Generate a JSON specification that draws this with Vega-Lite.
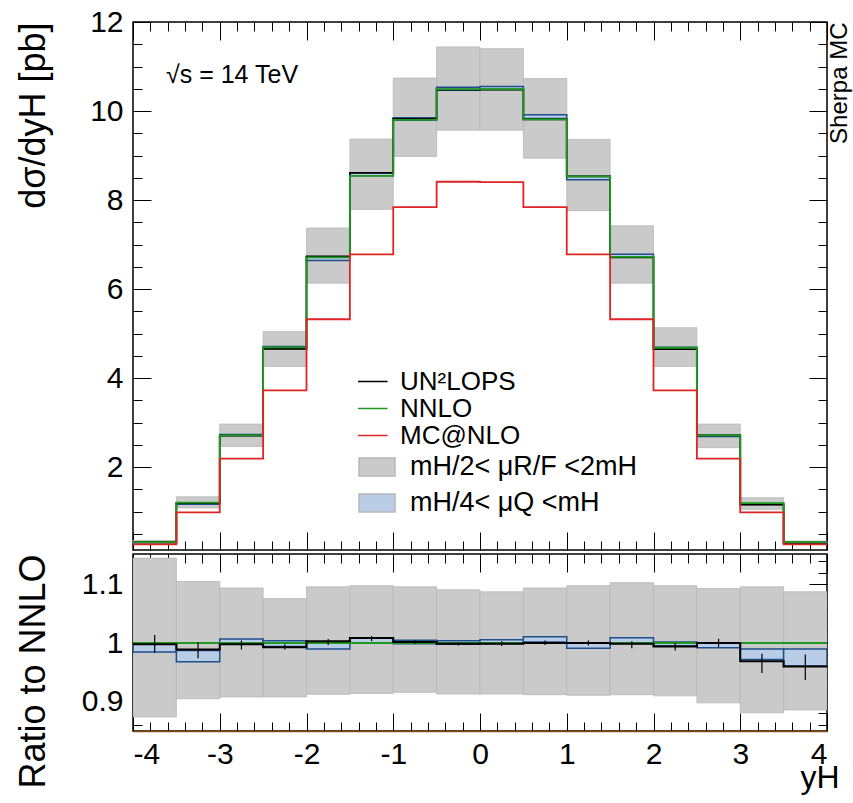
{
  "$schema": "https://vega.github.io/schema/vega-lite/v6.json",
  "padding": {"left": 14, "top": 6, "right": 3, "bottom": 1},
  "spacing": 0,
  "datasets": {
    "bins": [
      {"lo": -4, "hi": -3.5, "c": -3.75, "nnlo": 0.31, "un": 0.309, "mc": 0.26, "s_lo": 0.272, "s_hi": 0.352, "q_lo": 0.305, "q_hi": 0.309, "r_un": 0.998, "rs_lo": 0.874, "rs_hi": 1.145, "rq_lo": 0.985, "rq_hi": 0.998, "re_lo": 0.9835, "re_hi": 1.0136},
      {"lo": -3.5, "hi": -3, "c": -3.25, "nnlo": 1.2, "un": 1.187, "mc": 0.98, "s_lo": 1.08, "s_hi": 1.33, "q_lo": 1.162, "q_hi": 1.185, "r_un": 0.989, "rs_lo": 0.905, "rs_hi": 1.105, "rq_lo": 0.968, "rq_hi": 0.9875, "re_lo": 0.974, "re_hi": 1.002},
      {"lo": -3, "hi": -2.5, "c": -2.75, "nnlo": 2.71, "un": 2.705, "mc": 2.19, "s_lo": 2.46, "s_hi": 2.965, "q_lo": 2.707, "q_hi": 2.729, "r_un": 0.998, "rs_lo": 0.908, "rs_hi": 1.094, "rq_lo": 0.999, "rq_hi": 1.007, "re_lo": 0.989, "re_hi": 1.0045},
      {"lo": -2.5, "hi": -2, "c": -2.25, "nnlo": 4.69, "un": 4.657, "mc": 3.72, "s_lo": 4.26, "s_hi": 5.04, "q_lo": 4.662, "q_hi": 4.709, "r_un": 0.993, "rs_lo": 0.908, "rs_hi": 1.076, "rq_lo": 0.994, "rq_hi": 1.004, "re_lo": 0.989, "re_hi": 0.998},
      {"lo": -2, "hi": -1.5, "c": -1.75, "nnlo": 6.71, "un": 6.73, "mc": 5.32, "s_lo": 6.13, "s_hi": 7.37, "q_lo": 6.643, "q_hi": 6.723, "r_un": 1.003, "rs_lo": 0.9125, "rs_hi": 1.096, "rq_lo": 0.99, "rq_hi": 1.002, "re_lo": 0.9966, "re_hi": 1.007},
      {"lo": -1.5, "hi": -1, "c": -1.25, "nnlo": 8.54, "un": 8.61, "mc": 6.78, "s_lo": 7.79, "s_hi": 9.37, "q_lo": 8.545, "q_hi": 8.613, "r_un": 1.0085, "rs_lo": 0.914, "rs_hi": 1.098, "rq_lo": 1.0006, "rq_hi": 1.0085, "re_lo": 1.0034, "re_hi": 1.012},
      {"lo": -1, "hi": -0.5, "c": -0.75, "nnlo": 9.8, "un": 9.82, "mc": 7.84, "s_lo": 8.98, "s_hi": 10.74, "q_lo": 9.79, "q_hi": 9.849, "r_un": 1.002, "rs_lo": 0.916, "rs_hi": 1.096, "rq_lo": 0.999, "rq_hi": 1.005, "re_lo": 0.999, "re_hi": 1.0045},
      {"lo": -0.5, "hi": 0, "c": -0.25, "nnlo": 10.49, "un": 10.48, "mc": 8.41, "s_lo": 9.57, "s_hi": 11.44, "q_lo": 10.469, "q_hi": 10.532, "r_un": 0.999, "rs_lo": 0.913, "rs_hi": 1.091, "rq_lo": 0.998, "rq_hi": 1.004, "re_lo": 0.996, "re_hi": 1.0017},
      {"lo": 0, "hi": 0.5, "c": 0.25, "nnlo": 10.49, "un": 10.48, "mc": 8.4, "s_lo": 9.57, "s_hi": 11.4, "q_lo": 10.484, "q_hi": 10.55, "r_un": 0.999, "rs_lo": 0.913, "rs_hi": 1.0875, "rq_lo": 0.9994, "rq_hi": 1.0057, "re_lo": 0.995, "re_hi": 1.003},
      {"lo": 0.5, "hi": 1, "c": 0.75, "nnlo": 9.81, "un": 9.81, "mc": 7.84, "s_lo": 8.94, "s_hi": 10.73, "q_lo": 9.83, "q_hi": 9.918, "r_un": 1.0, "rs_lo": 0.912, "rs_hi": 1.094, "rq_lo": 1.002, "rq_hi": 1.011, "re_lo": 0.9966, "re_hi": 1.0045},
      {"lo": 1, "hi": 1.5, "c": 1.25, "nnlo": 8.53, "un": 8.53, "mc": 6.78, "s_lo": 7.76, "s_hi": 9.36, "q_lo": 8.453, "q_hi": 8.535, "r_un": 1.0, "rs_lo": 0.911, "rs_hi": 1.098, "rq_lo": 0.991, "rq_hi": 1.0006, "re_lo": 0.996, "re_hi": 1.0045},
      {"lo": 1.5, "hi": 2, "c": 1.75, "nnlo": 6.72, "un": 6.71, "mc": 5.32, "s_lo": 6.13, "s_hi": 7.42, "q_lo": 6.716, "q_hi": 6.78, "r_un": 0.999, "rs_lo": 0.912, "rs_hi": 1.103, "rq_lo": 0.9994, "rq_hi": 1.009, "re_lo": 0.991, "re_hi": 1.003},
      {"lo": 2, "hi": 2.5, "c": 2.25, "nnlo": 4.68, "un": 4.65, "mc": 3.72, "s_lo": 4.26, "s_hi": 5.13, "q_lo": 4.659, "q_hi": 4.689, "r_un": 0.994, "rs_lo": 0.91, "rs_hi": 1.098, "rq_lo": 0.9955, "rq_hi": 1.002, "re_lo": 0.9875, "re_hi": 1.0},
      {"lo": 2.5, "hi": 3, "c": 2.75, "nnlo": 2.71, "un": 2.71, "mc": 2.19, "s_lo": 2.435, "s_hi": 2.965, "q_lo": 2.688, "q_hi": 2.712, "r_un": 1.0, "rs_lo": 0.898, "rs_hi": 1.093, "rq_lo": 0.992, "rq_hi": 1.0006, "re_lo": 0.993, "re_hi": 1.0074},
      {"lo": 3, "hi": 3.5, "c": 3.25, "nnlo": 1.19, "un": 1.153, "mc": 0.98, "s_lo": 1.05, "s_hi": 1.31, "q_lo": 1.157, "q_hi": 1.178, "r_un": 0.969, "rs_lo": 0.881, "rs_hi": 1.096, "rq_lo": 0.972, "rq_hi": 0.99, "re_lo": 0.949, "re_hi": 0.982},
      {"lo": 3.5, "hi": 4, "c": 3.75, "nnlo": 0.31, "un": 0.298, "mc": 0.26, "s_lo": 0.275, "s_hi": 0.337, "q_lo": 0.298, "q_hi": 0.307, "r_un": 0.96, "rs_lo": 0.886, "rs_hi": 1.0875, "rq_lo": 0.961, "rq_hi": 0.99, "re_lo": 0.937, "re_hi": 0.9807}
    ]
  },
  "config": {
    "font": "Liberation Sans",
    "view": {"stroke": "black", "strokeWidth": 1.5},
    "axis": {
      "domain": false, "grid": false, "tickColor": "black", "tickWidth": 1,
      "labelColor": "black", "titleColor": "black", "labelFontSize": 30, "titleFontSize": 36,
      "titleFontWeight": "normal", "labelFont": "Liberation Sans", "titleFont": "Liberation Sans", "format": "~g"
    },
    "legend": {"labelFontSize": 27, "labelFont": "Liberation Sans", "labelColor": "black", "labelLimit": 400, "padding": 0, "offset": 0}
  },
  "vconcat": [
    {
      "width": 694, "height": 528,
      "data": {"name": "bins"},
      "layer": [
        {
          "mark": {"type": "rect", "stroke": "#b8b8b8", "strokeWidth": 0.8},
          "encoding": {
            "x": {"field": "lo", "type": "quantitative", "scale": {"domain": [-4, 4], "nice": false, "zero": false},
              "axis": {"orient": "bottom", "title": null, "values": [-4,-3.8,-3.6,-3.4,-3.2,-3,-2.8,-2.6,-2.4,-2.2,-2,-1.8,-1.6,-1.4,-1.2,-1,-0.8,-0.6,-0.4,-0.2,0,0.2,0.4,0.6,0.8,1,1.2,1.4,1.6,1.8,2,2.2,2.4,2.6,2.8,3,3.2,3.4,3.6,3.8,4], "labels": false,
                "tickSize": {"condition": {"test": "datum.value % 1 === 0", "value": -18}, "value": -9}}},
            "x2": {"field": "hi"},
            "y": {"field": "s_lo", "type": "quantitative", "scale": {"domain": [0.135, 12], "nice": false, "zero": false},
              "axis": {"orient": "left", "title": "dσ/dyH [pb]", "titleAnchor": "end", "titlePadding": 37,
                "values": [0.5,1,1.5,2,2.5,3,3.5,4,4.5,5,5.5,6,6.5,7,7.5,8,8.5,9,9.5,10,10.5,11,11.5,12],
                "labelExpr": "datum.value % 2 === 0 ? datum.label : ''", "labelPadding": 28,
                "tickSize": {"condition": {"test": "datum.value % 2 === 0", "value": -18}, "value": -9}}},
            "y2": {"field": "s_hi"},
            "fill": {"datum": "scale", "scale": {"domain": ["scale", "q"], "range": ["#cacaca", "#b9cde6"]},
              "legend": {"title": null, "orient": "none", "legendX": 225, "legendY": 427, "symbolType": "M-1,-0.5H1V0.5H-1Z", "symbolSize": 1296, "rowPadding": 0, "clipHeight": 36, "labelOffset": 14,
                "labelExpr": "datum.label == 'scale' ? 'mH/2< μR/F <2mH' : 'mH/4< μQ <mH'",
                "symbolOpacity": 1,
                "encode": {"symbols": {"update": {"stroke": {"signal": "datum.value == 'q' ? '#1f4e8c' : '#b0b0b0'"}, "strokeWidth": {"value": 1.5}}}}}}
          }
        },
        {
          "mark": {"type": "rect", "stroke": "#1f4e8c", "strokeWidth": 1.5},
          "encoding": {
            "x": {"field": "lo", "type": "quantitative", "axis": null},
            "x2": {"field": "hi"},
            "y": {"field": "q_lo", "type": "quantitative", "axis": null},
            "y2": {"field": "q_hi"},
            "fill": {"datum": "q"}
          }
        },
        {
          "transform": [
            {"fold": ["un", "nnlo", "mc"], "as": ["series", "val"]},
            {"fold": ["lo", "hi"], "as": ["edge", "x"]}
          ],
          "mark": {"type": "line", "strokeWidth": 1.8},
          "encoding": {
            "x": {"field": "x", "type": "quantitative",
              "axis": {"orient": "top", "title": null, "values": [-4,-3.8,-3.6,-3.4,-3.2,-3,-2.8,-2.6,-2.4,-2.2,-2,-1.8,-1.6,-1.4,-1.2,-1,-0.8,-0.6,-0.4,-0.2,0,0.2,0.4,0.6,0.8,1,1.2,1.4,1.6,1.8,2,2.2,2.4,2.6,2.8,3,3.2,3.4,3.6,3.8,4], "labels": false,
                "tickSize": {"condition": {"test": "datum.value % 1 === 0", "value": -18}, "value": -9}}},
            "y": {"field": "val", "type": "quantitative",
              "axis": {"orient": "right", "title": "Sherpa MC", "titleFontSize": 24, "titleAngle": 270, "titleAnchor": "end", "titlePadding": 24, "labels": false,
                "values": [0.5,1,1.5,2,2.5,3,3.5,4,4.5,5,5.5,6,6.5,7,7.5,8,8.5,9,9.5,10,10.5,11,11.5,12],
                "tickSize": {"condition": {"test": "datum.value % 2 === 0", "value": -18}, "value": -9}}},
            "stroke": {"field": "series", "type": "nominal", "scale": {"domain": ["un", "nnlo", "mc"], "range": ["#000000", "#1f9a1f", "#e02424"]},
              "legend": {"title": null, "orient": "none", "legendX": 225, "legendY": 349, "symbolType": "M-2,0H2", "symbolSize": 275, "symbolStrokeWidth": 1.5, "rowPadding": 0, "clipHeight": 21, "labelOffset": 16, "labelFontSize": 26,
                "labelExpr": "datum.label == 'un' ? 'UN²LOPS' : datum.label == 'nnlo' ? 'NNLO' : 'MC@NLO'"}}
          }
        },
        {
          "data": {"values": [{}]},
          "mark": {"type": "text", "text": "√s = 14 TeV", "align": "left", "baseline": "middle", "fontSize": 25, "fontWeight": "normal", "fill": "black"},
          "encoding": {
            "x": {"datum": -3.62, "type": "quantitative", "axis": null},
            "y": {"datum": 10.82, "type": "quantitative", "axis": null}
          }
        }
      ],
      "resolve": {"axis": {"x": "independent", "y": "independent"}}
    },
    {
      "width": 694, "height": 177,
      "data": {"name": "bins"},
      "layer": [
        {
          "mark": {"type": "rect", "color": "#cacaca", "stroke": "#b8b8b8", "strokeWidth": 0.8, "clip": true},
          "encoding": {
            "x": {"field": "lo", "type": "quantitative", "scale": {"domain": [-4, 4], "nice": false, "zero": false},
              "axis": {"orient": "bottom", "title": "yH", "titleFontSize": 32, "titleAnchor": "end", "titleAlign": "right", "titleX": 706, "titleY": 56, "titleBaseline": "alphabetic", "values": [-4,-3.8,-3.6,-3.4,-3.2,-3,-2.8,-2.6,-2.4,-2.2,-2,-1.8,-1.6,-1.4,-1.2,-1,-0.8,-0.6,-0.4,-0.2,0,0.2,0.4,0.6,0.8,1,1.2,1.4,1.6,1.8,2,2.2,2.4,2.6,2.8,3,3.2,3.4,3.6,3.8,4],
                "labelExpr": "datum.value % 1 === 0 ? replace(datum.label, '−', '-') : ''", "labelPadding": 26, "domain": true, "domainColor": "#8b4a10", "domainWidth": 1.5,
                "tickSize": {"condition": {"test": "datum.value % 1 === 0", "value": -18}, "value": -9}}},
            "x2": {"field": "hi"},
            "y": {"field": "rs_lo", "type": "quantitative", "scale": {"domain": [0.85, 1.152], "nice": false, "zero": false},
              "axis": {"orient": "left", "title": "Ratio to NNLO", "titleAnchor": "end", "titlePadding": 29,
                "values": [0.86,0.88,0.9,0.92,0.94,0.96,0.98,1,1.02,1.04,1.06,1.08,1.1,1.12,1.14], "format": ".3~g",
                "labelExpr": "abs(datum.value*10 - round(datum.value*10)) < 0.001 ? datum.label : ''", "labelPadding": 28,
                "tickSize": {"condition": {"test": "abs(datum.value*10 - round(datum.value*10)) < 0.001", "value": -18}, "value": -9}}},
            "y2": {"field": "rs_hi"}
          }
        },
        {
          "mark": {"type": "rect", "color": "#b9cde6", "stroke": "#1f4e8c", "strokeWidth": 1.5, "clip": true},
          "encoding": {
            "x": {"field": "lo", "type": "quantitative", "axis": null},
            "x2": {"field": "hi"},
            "y": {"field": "rq_lo", "type": "quantitative", "axis": null},
            "y2": {"field": "rq_hi"}
          }
        },
        {
          "mark": {"type": "rule", "color": "#1f9a1f", "strokeWidth": 1.5},
          "encoding": {"y": {"datum": 1, "type": "quantitative", "axis": null}}
        },
        {
          "transform": [{"fold": ["lo", "hi"], "as": ["edge", "x"]}],
          "mark": {"type": "line", "color": "black", "strokeWidth": 2, "clip": true},
          "encoding": {
            "x": {"field": "x", "type": "quantitative",
              "axis": {"orient": "top", "title": null, "labels": false, "values": [-4,-3.8,-3.6,-3.4,-3.2,-3,-2.8,-2.6,-2.4,-2.2,-2,-1.8,-1.6,-1.4,-1.2,-1,-0.8,-0.6,-0.4,-0.2,0,0.2,0.4,0.6,0.8,1,1.2,1.4,1.6,1.8,2,2.2,2.4,2.6,2.8,3,3.2,3.4,3.6,3.8,4],
                "tickSize": {"condition": {"test": "datum.value % 1 === 0", "value": -18}, "value": -9}}},
            "y": {"field": "r_un", "type": "quantitative",
              "axis": {"orient": "right", "title": null, "labels": false,
                "values": [0.86,0.88,0.9,0.92,0.94,0.96,0.98,1,1.02,1.04,1.06,1.08,1.1,1.12,1.14],
                "tickSize": {"condition": {"test": "abs(datum.value*10 - round(datum.value*10)) < 0.001", "value": -18}, "value": -9}}}
          }
        },
        {
          "mark": {"type": "rule", "color": "black", "strokeWidth": 1.2, "clip": true},
          "encoding": {
            "x": {"field": "c", "type": "quantitative", "axis": null},
            "y": {"field": "re_lo", "type": "quantitative", "axis": null},
            "y2": {"field": "re_hi"}
          }
        }
      ],
      "resolve": {"axis": {"x": "independent", "y": "independent"}}
    }
  ]
}
